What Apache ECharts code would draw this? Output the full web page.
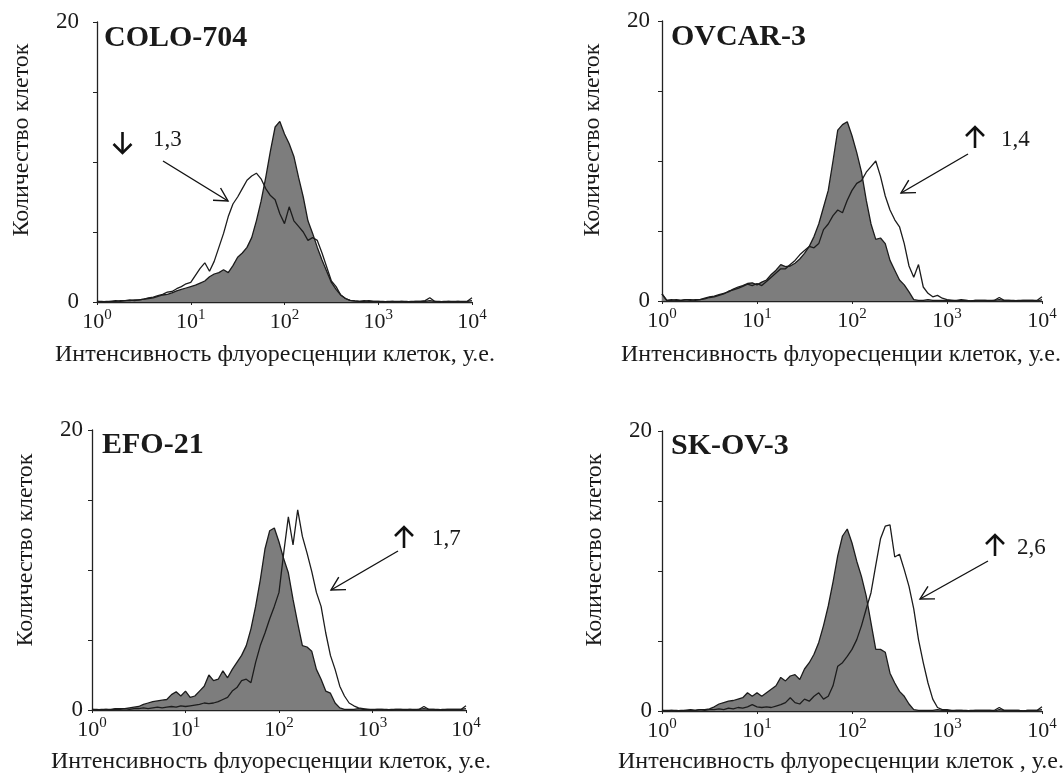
<!DOCTYPE html>
<html>
<head>
<meta charset="utf-8">
<style>
  html, body { margin: 0; padding: 0; background: #fff; }
  #chart { width: 1064px; height: 775px; }
</style>
<script src="https://cdn.jsdelivr.net/npm/echarts@6/dist/echarts.min.js"></script>
</head>
<body>
<div id="chart"></div>
<script>
// fluorescence intensity, in decades (10^0 .. 10^4)
const decades = [0, 0.05, 0.1, 0.15, 0.2, 0.25, 0.3, 0.35, 0.4, 0.45,
  0.5, 0.55, 0.6, 0.65, 0.7, 0.75, 0.8, 0.85, 0.9, 0.95,
  1, 1.05, 1.1, 1.15, 1.2, 1.25, 1.3, 1.35, 1.4, 1.45,
  1.5, 1.55, 1.6, 1.65, 1.7, 1.75, 1.8, 1.85, 1.9, 1.95,
  2, 2.05, 2.1, 2.15, 2.2, 2.25, 2.3, 2.35, 2.4, 2.45,
  2.5, 2.55, 2.6, 2.65, 2.7, 2.75, 2.8, 2.85, 2.9, 2.95,
  3, 3.05, 3.1, 3.15, 3.2, 3.25, 3.3, 3.35, 3.4, 3.45,
  3.5, 3.55, 3.6, 3.65, 3.7, 3.75, 3.8, 3.85, 3.9, 3.95, 4];
const xTicks = [0, 1, 2, 3, 4];

// cell counts: grey = control, outline = sample
const colo704Control = [0.05, 0, 0.05, 0.05, 0.1, 0.05, 0.1, 0.1, 0.15, 0.15,
  0.2, 0.25, 0.3, 0.4, 0.5, 0.55, 0.65, 0.8, 0.9, 1.0,
  1.1, 1.2, 1.35, 1.5, 1.8, 2.0, 2.1, 2.3, 2.1, 2.6,
  3.2, 3.5, 3.9, 4.6, 5.8, 7.2, 8.9, 10.8, 12.5, 12.9,
  12.0, 11.3, 10.4, 8.9, 7.5, 5.8, 4.9, 3.9, 3.0, 2.2,
  1.4, 0.9, 0.5, 0.25, 0.12, 0.08, 0.05, 0.05, 0.1, 0.05,
  0.05, 0, 0.05, 0.05, 0, 0.05, 0.05, 0, 0.05, 0.05,
  0.05, 0.1, 0.05, 0, 0.05, 0.05, 0, 0.05, 0.05, 0.05, 0.1];
const colo704Sample = [0.05, 0.05, 0, 0.05, 0.05, 0.1, 0.1, 0.15, 0.1, 0.15,
  0.2, 0.3, 0.35, 0.45, 0.55, 0.7, 0.75, 0.95, 1.1, 1.3,
  1.4, 1.9, 2.4, 2.8, 2.2, 2.9, 3.9, 4.9, 6.1, 7.0,
  7.5, 8.1, 8.7, 9.0, 9.2, 8.8, 8.1, 7.6, 7.3, 6.3,
  5.6, 6.8, 5.8, 5.4, 5.0, 4.4, 4.6, 4.4, 3.5, 2.5,
  1.5, 1.1, 0.5, 0.25, 0.12, 0.08, 0.05, 0.1, 0.05, 0.05,
  0.05, 0.05, 0, 0.05, 0.05, 0.05, 0, 0.05, 0.05, 0.05,
  0.1, 0.3, 0.05, 0.05, 0, 0.05, 0.05, 0.05, 0, 0.05, 0.3];

const ovcar3Control = [0.5, 0.05, 0.05, 0.1, 0.05, 0.1, 0.1, 0.05, 0.1, 0.2,
  0.3, 0.35, 0.45, 0.55, 0.65, 0.85, 1.0, 1.1, 1.25, 1.3,
  1.15, 1.35, 1.5, 1.9, 2.2, 2.6, 2.45, 2.5, 2.7, 3.0,
  3.4, 3.9, 4.6, 5.5, 6.7, 7.9, 10.0, 12.2, 12.6, 12.8,
  11.8, 10.6, 9.2, 7.2, 5.5, 4.4, 4.5, 4.1, 2.9, 2.2,
  1.5, 1.15, 0.65, 0.1, 0.05, 0.05, 0.1, 0.05, 0.05, 0.05,
  0.05, 0.05, 0, 0.05, 0.05, 0, 0.05, 0.05, 0.05, 0,
  0.05, 0.1, 0.05, 0.05, 0, 0.05, 0.05, 0.05, 0.05, 0, 0.1];
const ovcar3Sample = [0.5, 0.05, 0.1, 0.05, 0.05, 0.1, 0.05, 0.1, 0.1, 0.15,
  0.25, 0.3, 0.4, 0.5, 0.7, 0.8, 0.9, 1.05, 1.2, 1.1,
  1.25, 1.1, 1.4, 1.7, 2.0, 2.3, 2.3, 2.6, 2.9, 3.3,
  3.6, 3.9, 3.8, 4.1, 5.1, 5.5, 6.1, 6.5, 6.3, 7.2,
  7.9, 8.4, 8.6, 9.2, 9.6, 10.0, 8.9, 7.5, 6.5, 5.8,
  5.3, 4.1, 2.5, 1.7, 2.6, 1.0, 0.55, 0.3, 0.4, 0.2,
  0.1, 0.05, 0.05, 0.1, 0.05, 0, 0.05, 0.05, 0.05, 0.05,
  0.05, 0.25, 0.05, 0.05, 0.05, 0, 0.05, 0.05, 0.05, 0.05, 0.3];

const efo21Control = [0.05, 0.05, 0, 0.05, 0.05, 0.1, 0.1, 0.1, 0.15, 0.2,
  0.25, 0.4, 0.5, 0.6, 0.65, 0.7, 0.75, 1.1, 1.3, 1.0,
  1.35, 0.9, 1.0, 1.35, 1.7, 2.5, 2.1, 2.2, 2.8, 2.3,
  2.9, 3.4, 3.9, 4.6, 5.8, 7.4, 9.3, 11.5, 12.8, 13.0,
  12.0, 10.8, 9.8, 7.9, 6.2, 4.6, 4.5, 4.2, 2.9, 2.2,
  1.35, 1.2, 0.5, 0.15, 0.05, 0.05, 0.05, 0.1, 0.05, 0.05,
  0, 0.05, 0.05, 0.05, 0, 0.05, 0.05, 0.05, 0.05, 0,
  0.05, 0.1, 0.05, 0.05, 0.05, 0, 0.05, 0.05, 0.05, 0.05, 0.1];
const efo21Sample = [0.05, 0, 0.05, 0.05, 0, 0.05, 0.05, 0.1, 0.05, 0.1,
  0.1, 0.15, 0.1, 0.15, 0.2, 0.15, 0.2, 0.25, 0.2, 0.3,
  0.25, 0.3, 0.35, 0.4, 0.5, 0.45, 0.5, 0.6, 0.75, 0.9,
  1.35, 1.6, 2.1, 2.2, 1.95, 3.4, 4.6, 5.5, 6.5, 7.4,
  8.4, 11.2, 13.8, 11.8, 14.3, 12.4, 11.2, 9.9, 8.4, 7.4,
  5.5, 3.9, 2.9, 1.7, 1.0, 0.5, 0.3, 0.15, 0.1, 0.05,
  0.05, 0.05, 0.05, 0, 0.05, 0.05, 0.05, 0, 0.05, 0.05,
  0.05, 0.25, 0.05, 0.05, 0, 0.05, 0.05, 0.05, 0.05, 0.05, 0.3];

const skov3Control = [0.05, 0.05, 0.05, 0, 0.05, 0.05, 0.1, 0.05, 0.1, 0.1,
  0.15, 0.3, 0.5, 0.6, 0.7, 0.75, 0.85, 0.95, 1.3, 1.05,
  1.3, 1.05, 1.3, 1.55, 1.8, 2.4, 2.15, 2.5, 2.6, 2.25,
  3.0, 3.45, 4.05, 4.9, 6.1, 7.5, 9.2, 11.1, 12.5, 13.0,
  12.0, 10.7, 9.6, 8.2, 6.3, 4.4, 4.4, 4.2, 2.7, 2.0,
  1.4, 1.05, 0.5, 0.1, 0.05, 0.05, 0.05, 0.05, 0.1, 0.05,
  0.05, 0, 0.05, 0.05, 0.05, 0, 0.05, 0.05, 0.05, 0.05,
  0, 0.1, 0.05, 0.05, 0.05, 0.05, 0, 0.05, 0.05, 0.05, 0.1];
const skov3Sample = [0.05, 0, 0.05, 0.05, 0, 0.05, 0.05, 0.05, 0.1, 0.05,
  0.1, 0.1, 0.15, 0.1, 0.2, 0.15, 0.25, 0.2, 0.3, 0.45,
  0.3, 0.25, 0.3, 0.25, 0.35, 0.45, 0.6, 0.95, 0.6, 0.5,
  0.85, 0.7, 1.05, 1.3, 0.85, 1.05, 1.8, 3.2, 3.45, 3.9,
  4.4, 5.1, 6.1, 7.3, 8.45, 10.4, 12.3, 13.2, 13.3, 11.0,
  11.2, 10.1, 8.9, 7.3, 5.1, 3.45, 2.0, 0.85, 0.25, 0.1,
  0.1, 0.05, 0.05, 0.05, 0, 0.05, 0.05, 0.05, 0.05, 0.05,
  0.05, 0.25, 0.05, 0.05, 0.05, 0.05, 0, 0.05, 0.05, 0.05, 0.3];

const cellLines = ['COLO-704', 'OVCAR-3', 'EFO-21', 'SK-OV-3'];
const changes = ['1,3', '1,4', '1,7', '2,6'];
const directions = ['down', 'up', 'up', 'up'];
const controls = [colo704Control, ovcar3Control, efo21Control, skov3Control];
const samples = [colo704Sample, ovcar3Sample, efo21Sample, skov3Sample];

const yTitle = 'Количество клеток';
const xTitles = ['Интенсивность флуоресценции клеток, у.е.',
  'Интенсивность флуоресценции клеток, у.е.',
  'Интенсивность флуоресценции клеток, у.е.',
  'Интенсивность флуоресценции клеток , у.е.'];

// layout of the four panels
const layout = [
  { grid: { left: 97, top: 22, width: 375, height: 280 }, labelMargin: 18,
    title: [104, 38], yTitle: [22, 140], xTitle: [275, 355],
    mark: [122.5, 132, 153], text: [153, 140], pointer: [[163, 161], [228, 201]] },
  { grid: { left: 662, top: 21, width: 380, height: 280 }, labelMargin: 12,
    title: [671, 37], yTitle: [593, 140], xTitle: [841, 355],
    mark: [975, 127, 148], text: [1001, 140], pointer: [[968, 154], [901, 193]] },
  { grid: { left: 92, top: 430, width: 374, height: 280 }, labelMargin: 9,
    title: [102, 445], yTitle: [26, 550], xTitle: [271, 762],
    mark: [404, 527, 548], text: [432, 539], pointer: [[398, 551], [331, 590]] },
  { grid: { left: 662, top: 431, width: 380, height: 280 }, labelMargin: 10,
    title: [671, 446], yTitle: [595, 550], xTitle: [841, 762],
    mark: [995, 535, 556], text: [1017, 548], pointer: [[988, 561], [920, 599]] }
];

const serif = "'Liberation Serif', 'Times New Roman', serif";
const ink = '#1a1a1a';

const chart = echarts.init(document.getElementById('chart'));

const grids = [], xAxes = [], yAxes = [], series = [], graphics = [];

layout.forEach((p, i) => {
  grids.push(Object.assign({ outerBoundsMode: 'none', containLabel: false }, p.grid));
  xAxes.push({
    gridIndex: i, type: 'value', min: 0, max: 4, interval: 1,
    axisLine: { show: true, onZero: false, lineStyle: { color: '#222', width: 1.3 } },
    axisTick: { show: true, length: 3, lineStyle: { color: '#222' } },
    splitLine: { show: false },
    axisLabel: {
      margin: 6, color: ink, fontFamily: serif,
      formatter: v => xTicks.indexOf(v) >= 0 ? '{b|10}{s|' + v + '}' : '',
      rich: {
        b: { fontSize: 22, lineHeight: 28, fontFamily: serif, color: ink },
        s: { fontSize: 15, lineHeight: 15, verticalAlign: 'top', fontFamily: serif, color: ink }
      }
    }
  });
  yAxes.push({
    gridIndex: i, type: 'value', min: 0, max: 20, interval: 5,
    axisLine: { show: true, lineStyle: { color: '#222', width: 1.3 } },
    axisTick: { show: true, length: 4, lineStyle: { color: '#222' } },
    splitLine: { show: false },
    axisLabel: {
      margin: p.labelMargin, fontSize: 23, fontFamily: serif, color: ink,
      formatter: v => (v === 0 || v === 20) ? String(v) : ''
    }
  });
  series.push({
    type: 'line', xAxisIndex: i, yAxisIndex: i, symbol: 'none', z: 2,
    data: decades.map((d, k) => [d, controls[i][k]]),
    lineStyle: { color: '#1c1c1c', width: 1.3 },
    areaStyle: { color: '#7d7d7d', opacity: 1 }
  });
  series.push({
    type: 'line', xAxisIndex: i, yAxisIndex: i, symbol: 'none', z: 3,
    data: decades.map((d, k) => [d, samples[i][k]]),
    lineStyle: { color: '#1c1c1c', width: 1.3 }
  });

  // texts
  graphics.push({
    type: 'text', x: p.title[0], y: p.title[1],
    style: { text: cellLines[i], font: 'bold 30px ' + serif, fill: ink,
      textAlign: 'left', textVerticalAlign: 'middle', align: 'left', verticalAlign: 'middle' }
  });
  graphics.push({
    type: 'text', x: p.yTitle[0], y: p.yTitle[1], rotation: Math.PI / 2,
    style: { text: yTitle, font: '24px ' + serif, fill: ink,
      textAlign: 'center', textVerticalAlign: 'middle', align: 'center', verticalAlign: 'middle' }
  });
  graphics.push({
    type: 'text', x: p.xTitle[0], y: p.xTitle[1],
    style: { text: xTitles[i], font: '24px ' + serif, fill: ink,
      textAlign: 'center', textVerticalAlign: 'middle', align: 'center', verticalAlign: 'middle' }
  });
  graphics.push({
    type: 'text', x: p.text[0], y: p.text[1],
    style: { text: changes[i], font: '23px ' + serif, fill: ink,
      textAlign: 'left', textVerticalAlign: 'middle', align: 'left', verticalAlign: 'middle' }
  });

  // bold up / down arrow
  const [mx, mTop, mBottom] = p.mark;
  const tipY = directions[i] === 'down' ? mBottom : mTop;
  const backY = directions[i] === 'down' ? mBottom - 9 : mTop + 9;
  graphics.push({
    type: 'line', shape: { x1: mx, y1: mTop, x2: mx, y2: mBottom },
    style: { stroke: '#111', lineWidth: 2.6 }
  });
  graphics.push({
    type: 'polyline', shape: { points: [[mx - 9, backY], [mx, tipY], [mx + 9, backY]] },
    style: { stroke: '#111', lineWidth: 2.6, fill: null }
  });

  // thin pointer arrow
  const [from, to] = p.pointer;
  const ang = Math.atan2(from[1] - to[1], from[0] - to[0]);
  const head = 15, spread = 0.5;
  graphics.push({
    type: 'line', shape: { x1: from[0], y1: from[1], x2: to[0], y2: to[1] },
    style: { stroke: '#111', lineWidth: 1.4 }
  });
  graphics.push({
    type: 'polyline',
    shape: { points: [
      [to[0] + head * Math.cos(ang + spread), to[1] + head * Math.sin(ang + spread)],
      [to[0], to[1]],
      [to[0] + head * Math.cos(ang - spread), to[1] + head * Math.sin(ang - spread)]
    ] },
    style: { stroke: '#111', lineWidth: 1.4, fill: null }
  });
});

chart.setOption({
  animation: false,
  backgroundColor: '#fff',
  grid: grids,
  xAxis: xAxes,
  yAxis: yAxes,
  series: series,
  graphic: { elements: graphics }
});

window.addEventListener('resize', function () {
  chart.resize();
});
</script>
</body>
</html>
